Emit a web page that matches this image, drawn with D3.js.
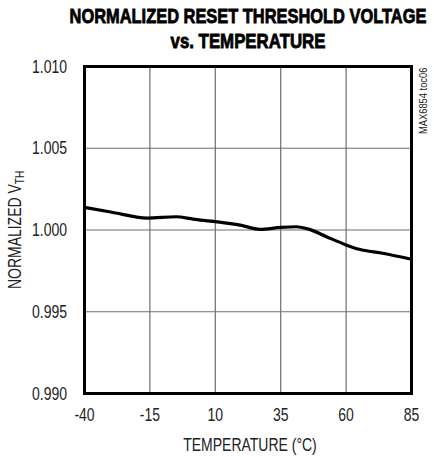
<!DOCTYPE html>
<html><head><meta charset="utf-8">
<script src="https://cdn.jsdelivr.net/npm/d3@7"></script>
<style>body{margin:0;background:#fff}svg{display:block}</style>
</head><body>
<script>
const temps = [-40, -30, -16, -5, 1.5, 10, 20, 27, 35, 41, 46, 52.5, 60, 65, 74, 85];
const vth   = [1.00138, 1.00110, 1.00073, 1.00081, 1.00067, 1.00051, 1.00028, 1.00004, 1.00016, 1.00020, 1.00004, 0.99959, 0.99909, 0.99882, 0.99858, 0.99821];
const xTicks = [-40, -15, 10, 35, 60, 85];
const yTicks = [0.990, 0.995, 1.000, 1.005, 1.010];
const titleLines = ["NORMALIZED RESET THRESHOLD VOLTAGE", "vs. TEMPERATURE"];

const W = 434, H = 457;
const m = {left: 84.5, right: 411.5, top: 66.5, bottom: 393.5};
const svg = d3.select("body").append("svg").attr("width", W).attr("height", H);
const x = d3.scaleLinear().domain([-40, 85]).range([m.left, m.right]);
const y = d3.scaleLinear().domain([0.990, 1.010]).range([m.bottom, m.top]);
const font = "'Liberation Sans', Arial, sans-serif";
const SX = 0.8, FS = 17.5;

function narrow(g, tx, ty, txt, anchor, size, rot) {
  return g.append("text")
    .attr("transform", `translate(${tx},${ty}) ${rot ? "rotate(" + rot + ")" : ""} scale(${SX},1)`)
    .attr("text-anchor", anchor).attr("font-family", font).attr("font-size", size || FS)
    .attr("fill", "#222").text(txt);
}

// grid
svg.append("g").selectAll("line").data(xTicks.slice(1, -1)).join("line")
  .attr("x1", d => x(d)).attr("x2", d => x(d)).attr("y1", m.top).attr("y2", m.bottom)
  .attr("stroke", "#6e6e6e").attr("stroke-width", 1.2);
svg.append("g").selectAll("line").data(yTicks.slice(1, -1)).join("line")
  .attr("y1", d => y(d)).attr("y2", d => y(d)).attr("x1", m.left).attr("x2", m.right)
  .attr("stroke", "#6e6e6e").attr("stroke-width", 1.2);

// tick labels
const fmtX = d3.format("d"), fmtY = d3.format(".3f");
const gx = svg.append("g");
xTicks.forEach(t => narrow(gx, x(t), 420.5, fmtX(t).replace("−", "-"), "middle"));
const gy = svg.append("g");
yTicks.forEach(t => narrow(gy, 67, y(t) + 6, fmtY(t), "end"));

// curve
const line = d3.line().x((d, i) => x(temps[i])).y(d => y(d)).curve(d3.curveMonotoneX);
svg.append("path").attr("d", line(vth)).attr("fill", "none").attr("stroke", "#000")
  .attr("stroke-width", 3.2).attr("stroke-linejoin", "round").attr("stroke-linecap", "round");

// frame
svg.append("rect").attr("x", m.left).attr("y", m.top).attr("width", m.right - m.left)
  .attr("height", m.bottom - m.top).attr("fill", "none").attr("stroke", "#000").attr("stroke-width", 3);

// title (condensed via horizontal scale to match target widths)
const tw = [357, 155];
titleLines.forEach((t, i) => {
  const el = svg.append("text")
    .attr("text-anchor", "middle").attr("font-family", font).attr("font-weight", "bold")
    .attr("font-size", 20.5).attr("stroke", "#000").attr("stroke-width", 0.8)
    .text(t);
  const w = el.node().getComputedTextLength() || tw[i];
  el.attr("transform", `translate(${(m.left + m.right) / 2},${23 + i * 25}) scale(${tw[i] / w},1)`);
});

// x title
narrow(svg, 250, 451, "TEMPERATURE (°C)", "middle");

// y title
const yt = narrow(svg, 21, 230, "", "middle", FS, -90);
yt.append("tspan").text("NORMALIZED V");
yt.append("tspan").attr("font-size", 12.5).attr("dy", 3).text("TH");

// side note
svg.append("text").attr("transform", `translate(427,134) rotate(-90) scale(0.85,1)`)
  .attr("font-family", font).attr("font-size", 11).attr("fill", "#222").text("MAX6854 toc06");
</script>
</body></html>
